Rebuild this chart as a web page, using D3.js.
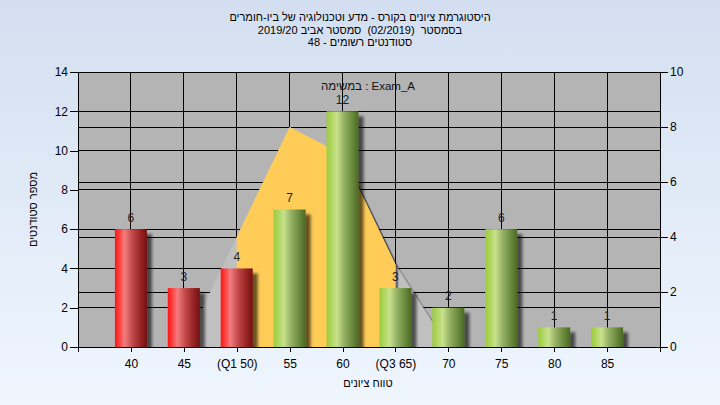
<!DOCTYPE html>
<html><head><meta charset="utf-8">
<script src="https://cdn.jsdelivr.net/npm/d3@7"></script>
<style>
html,body{margin:0;padding:0;overflow:hidden;background:#eef5fd;}
svg{display:block;}
text{font-family:"Liberation Sans",Arial,"DejaVu Sans",sans-serif;}
text.title{white-space:pre;}
</style>
</head><body>
<svg id="c" width="720" height="405"></svg>
<script>
// ---- data ----
const titleLines = [
  "היסטוגרמת ציונים בקורס - מדע וטכנולוגיה של ביו-חומרים",
  "בסמסטר  (02/2019)  סמסטר אביב 2019/20",
  "סטודנטים רשומים - 48"
];
const categories = ["40","45","(Q1 50)","55","60","(Q3 65)","70","75","80","85"];
const counts = [6,3,4,7,12,3,2,6,1,1];
const curveValues = [0,0,4,8,7,3,0,0,0,0];   // right axis
const leftTicks = [0,2,4,6,8,10,12,14];
const rightTicks = [0,2,4,6,8,10];
const xTitle = "טווח ציונים";
const yTitle = "מספר סטודנטים";
const noteText = "במשימה : Exam_A";

// ---- layout ----
const W = 720, H = 405;
const L = 78, R = 660, T = 72, B = 347;
const n = categories.length;
const q1Idx = categories.findIndex(c => c.includes("Q1"));
const q3Idx = categories.findIndex(c => c.includes("Q3"));

const svg = d3.select("#c");
const defs = svg.append("defs");

const bg = defs.append("linearGradient").attr("id","bg").attr("x1",0).attr("y1",0).attr("x2",0).attr("y2",1);
bg.append("stop").attr("offset","0%").attr("stop-color","#d3dff0");
bg.append("stop").attr("offset","100%").attr("stop-color","#eff6fe");

function grad(id, stops){
  const g = defs.append("linearGradient").attr("id",id).attr("x1",0).attr("y1",0).attr("x2",1).attr("y2",0);
  stops.forEach(s => g.append("stop").attr("offset",s[0]).attr("stop-color",s[1]));
}
grad("gRed", [["0%","#ff1414"],["12%","#ff3a3a"],["30%","#f27c7c"],["55%","#c04848"],["80%","#982424"],["100%","#721010"]]);
grad("gGreen", [["0%","#9ccb3c"],["12%","#acd45a"],["32%","#c8e18c"],["55%","#94b064"],["80%","#6a8a3c"],["100%","#4a6824"]]);

const sh = defs.append("filter").attr("id","shadow").attr("x","-20%").attr("y","-20%").attr("width","160%").attr("height","160%");
sh.append("feDropShadow").attr("dx",5).attr("dy",5).attr("stdDeviation",1.8).attr("flood-color","#000").attr("flood-opacity",0.6);
const sh2 = defs.append("filter").attr("id","shadow2").attr("x","-20%").attr("y","-20%").attr("width","160%").attr("height","160%");
sh2.append("feDropShadow").attr("dx",2.5).attr("dy",2.5).attr("stdDeviation",0.5).attr("flood-color","#000").attr("flood-opacity",0.5);

defs.append("clipPath").attr("id","plotClip").append("rect")
  .attr("x",L).attr("y",T).attr("width",R-L).attr("height",B-T);

svg.append("rect").attr("width",W).attr("height",H).attr("fill","url(#bg)");

// ---- scales ----
const x = d3.scaleLinear().domain([0, n+1]).range([L, R]);
const yL = d3.scaleLinear().domain([0, 14]).range([B, T]);
const yR = d3.scaleLinear().domain([0, 10]).range([B, T]);

// plot background
svg.append("rect").attr("x",L).attr("y",T).attr("width",R-L).attr("height",B-T).attr("fill","#b4b4b4");

// gridlines
const grid = svg.append("g").attr("stroke","#000").attr("stroke-width",1).attr("shape-rendering","crispEdges");
d3.range(1, n+1).forEach(k => grid.append("line").attr("x1",x(k)).attr("x2",x(k)).attr("y1",T).attr("y2",B));
leftTicks.filter(v => v>0 && v<14).forEach(v => grid.append("line").attr("x1",L).attr("x2",R).attr("y1",yL(v)).attr("y2",yL(v)));
rightTicks.filter(v => v>0 && v<10).forEach(v => grid.append("line").attr("x1",L).attr("x2",R).attr("y1",yR(v)).attr("y2",yR(v)));

const plot = svg.append("g").attr("clip-path","url(#plotClip)");

// distribution curve areas (right axis)
const area = d3.area().x(d => x(d.k)).y0(yR(0)).y1(d => yR(d.v));
const curvePts = curveValues.map((v,i) => ({k:i+1, v}));
plot.append("path").datum(curvePts).attr("d", area).attr("fill","#c0c0c0").attr("filter","url(#shadow2)");
const iqrPts = curvePts.slice(q1Idx, q3Idx+1);
plot.append("path").datum(iqrPts).attr("d", area).attr("fill","#ffcc58").attr("filter","url(#shadow2)");

// bars
const bw = 32;
plot.selectAll("rect.bar").data(counts).join("rect").attr("class","bar")
  .attr("x",(d,i) => x(i+1) - bw/2).attr("width", bw)
  .attr("y", d => yL(d)).attr("height", d => B - yL(d))
  .attr("fill",(d,i) => i <= q1Idx ? "url(#gRed)" : "url(#gGreen)")
  .attr("filter","url(#shadow)");

// value labels
svg.selectAll("text.val").data(counts).join("text").attr("class","val")
  .attr("x",(d,i) => x(i+1)).attr("y", d => yL(d) - 7.5)
  .attr("text-anchor","middle").attr("font-size",12).attr("fill","#1e1e30").text(d => d);

// border
svg.append("rect").attr("x",L).attr("y",T).attr("width",R-L).attr("height",B-T)
  .attr("fill","none").attr("stroke","#000").attr("shape-rendering","crispEdges");

// axes
const axL = svg.append("g").attr("transform",`translate(${L},0)`)
  .call(d3.axisLeft(yL).tickValues(leftTicks).tickSize(8).tickSizeOuter(0).tickPadding(2));
const axR = svg.append("g").attr("transform",`translate(${R},0)`)
  .call(d3.axisRight(yR).tickValues(rightTicks).tickSize(8).tickSizeOuter(0).tickPadding(2));
const axB = svg.append("g").attr("transform",`translate(0,${B})`)
  .call(d3.axisBottom(x).tickValues(d3.range(0, n+2)).tickSize(5).tickSizeOuter(0).tickPadding(7.5)
    .tickFormat(k => (k>=1 && k<=n) ? categories[k-1] : ""));
[axL, axR, axB].forEach(a => {
  a.selectAll("text").attr("font-size",12).attr("fill","#000").attr("font-family",'"Liberation Sans",Arial,sans-serif');
  a.selectAll("line").attr("stroke","#000").attr("shape-rendering","crispEdges");
  a.select(".domain").attr("stroke","#000").attr("shape-rendering","crispEdges");
});

// titles
svg.selectAll("text.title").data(titleLines).join("text").attr("class","title")
  .attr("x",360).attr("y",(d,i) => 21 + i*12.7)
  .attr("text-anchor","middle").attr("direction","rtl").attr("font-size",11).attr("fill","#000").text(d => d);

svg.append("text").attr("x",368).attr("y",90).attr("text-anchor","middle")
  .attr("font-size",11.5).attr("fill","#111").text(noteText);

svg.append("text").attr("x",368).attr("y",387).attr("text-anchor","middle")
  .attr("direction","rtl").attr("font-size",11).attr("fill","#000").text(xTitle);

svg.append("text").attr("transform","translate(37,209.5) rotate(-90)").attr("text-anchor","middle")
  .attr("direction","rtl").attr("font-size",11).attr("fill","#000").text(yTitle);
</script>
</body></html>
